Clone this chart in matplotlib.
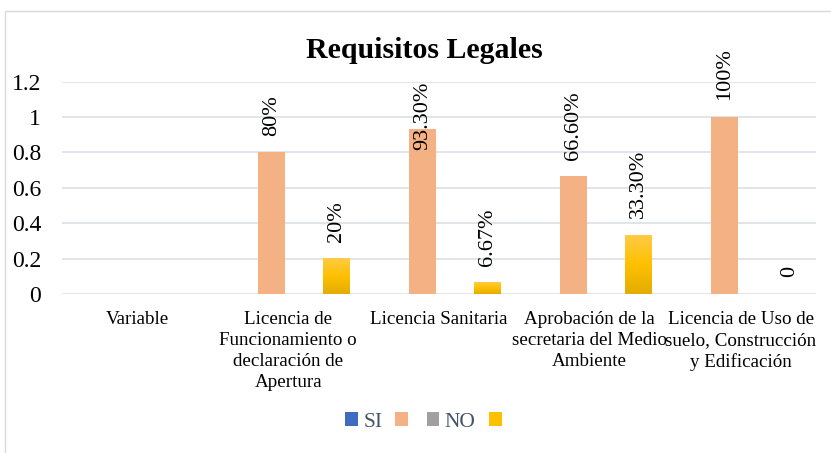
import numpy as np
import matplotlib.pyplot as plt
from matplotlib.patches import Patch, Rectangle
from matplotlib.colors import LinearSegmentedColormap

plt.rcParams['font.family'] = ['Liberation Serif', 'DejaVu Serif']

categorias = ['Variable',
              'Licencia de\nFuncionamiento o\ndeclaración de\nApertura',
              'Licencia Sanitaria',
              'Aprobación de la\nsecretaria del Medio\nAmbiente',
              'Licencia de Uso de\nsuelo, Construcción\ny Edificación']
si = [np.nan, np.nan, np.nan, np.nan, np.nan]
naranja = [np.nan, 0.80, 0.933, 0.666, 1.00]
no = [np.nan, np.nan, np.nan, np.nan, np.nan]
amarillo = [np.nan, 0.20, 0.0667, 0.333, 0.0]
etq_naranja = ['', '80%', '93.30%', '66.60%', '100%']
etq_amarillo = ['', '20%', '6.67%', '33.30%', '0']
yticks = [0, 0.2, 0.4, 0.6, 0.8, 1.0, 1.2]
ytick_labels = ['0', '0.2', '0.4', '0.6', '0.8', '1', '1.2']

fig = plt.figure(figsize=(8.31, 4.53), dpi=100)
ax = fig.add_axes([62 / 831, 1 - 294 / 453, 754 / 831, (294 - 81.7) / 453])

x = np.arange(len(categorias))
slot = 0.2155
w = 0.179
ax.bar(x - 1.5 * slot, si, w, color='#4472C4')
b_nar = ax.bar(x - 0.5 * slot, naranja, w, color='#F4B183', zorder=3)
ax.bar(x + 0.5 * slot, no, w, color='#A5A5A5')
b_ama = ax.bar(x + 1.5 * slot, amarillo, w, color='none', zorder=3)

# degradado amarillo
cmap_am = LinearSegmentedColormap.from_list('am', ['#E3AC00', '#FFC000', '#FFCB45'])
grad = np.linspace(0, 1, 100).reshape(-1, 1)
for p in b_ama:
    h = p.get_height()
    if not np.isfinite(h) or h <= 0:
        continue
    x0 = p.get_x()
    ax.imshow(grad, extent=[x0, x0 + p.get_width(), 0, h], origin='lower',
              cmap=cmap_am, aspect='auto', zorder=3)

for i, v in enumerate(naranja):
    if not np.isfinite(v):
        continue
    xi = x[i] - 0.5 * slot
    if 0.9 < v < 1.0:
        # Excel empuja la etiqueta dentro del área de trazado
        ax.text(xi, 1.2, etq_naranja[i], rotation=90, ha='center', va='top',
                fontsize=16, zorder=5)
    else:
        ax.annotate(etq_naranja[i], (xi, v), xytext=(0, 12), textcoords='offset points',
                    rotation=90, ha='center', va='bottom', fontsize=16,
                    annotation_clip=False, zorder=5)
for i, v in enumerate(amarillo):
    if not np.isfinite(v):
        continue
    ax.annotate(etq_amarillo[i], (x[i] + 1.5 * slot, v), xytext=(0, 12),
                textcoords='offset points', rotation=90, ha='center', va='bottom',
                fontsize=16, annotation_clip=False, zorder=5)

ax.set_xlim(-0.5, len(categorias) - 0.5)
ax.set_ylim(0, 1.2)
ax.set_yticks(yticks)
ax.set_yticklabels(ytick_labels, fontsize=17)
ax.set_xticks(x)
ax.set_xticklabels(categorias, fontsize=13.7, linespacing=1.32, va='top')
ax.tick_params(axis='both', length=0)
ax.tick_params(axis='y', pad=15)
ax.tick_params(axis='x', pad=12)
for s in ax.spines.values():
    s.set_visible(False)
ax.yaxis.grid(True, color='#DCDFE4', linewidth=1.2)
ax.set_axisbelow(True)

fig.text(424 / 831, 1 - 50 / 453, 'Requisitos Legales', ha='center', va='center',
         fontsize=21.5, fontweight='bold')

# borde del gráfico
fig.patches.append(Rectangle((5 / 831, -0.1), 2, 1 - 11 / 453 + 0.1, fill=False,
                             edgecolor='#D9D9D9', linewidth=1,
                             transform=fig.transFigure, figure=fig))

handles = [Patch(facecolor='#3F6CC0'), Patch(facecolor='#F4B183'),
           Patch(facecolor='#A0A0A0'), Patch(facecolor='#FFC000')]
fig.legend(handles, ['SI', '', 'NO', ''], loc='center', bbox_to_anchor=(426 / 831, 1 - 422 / 453),
           ncol=4, frameon=False, fontsize=15.5, labelcolor='#44546A',
           handlelength=0.6, handleheight=0.6, handletextpad=0.25, columnspacing=0.6,
           borderpad=0)

fig.savefig('out.png', dpi=100)
